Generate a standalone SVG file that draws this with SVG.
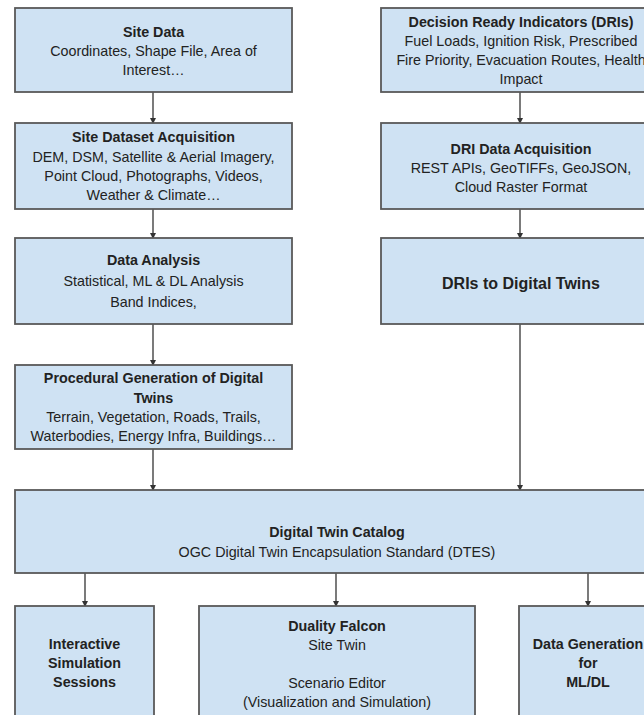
<svg xmlns="http://www.w3.org/2000/svg" width="644" height="715" viewBox="0 0 644 715">
<defs>
<marker id="ah" markerWidth="6" markerHeight="6" refX="5" refY="3" orient="auto" markerUnits="userSpaceOnUse">
<path d="M0,0 L6,3 L0,6 Z" fill="#333"/>
</marker>
<style>
.box{fill:#cfe2f3;stroke:#595959;stroke-width:1.8}
text{font-family:"Liberation Sans",Arial,sans-serif;font-size:14.3px;fill:#222;text-anchor:middle}
.t{font-weight:bold}
.big{font-weight:bold;font-size:16px}
.c{stroke:#333;stroke-width:1.3;fill:none}
</style>
</defs>
<rect width="644" height="715" fill="#fff"/>
<g id="connectors">
<line class="c" x1="153" y1="92" x2="153" y2="123" marker-end="url(#ah)"/>
<line class="c" x1="153" y1="209" x2="153" y2="238" marker-end="url(#ah)"/>
<line class="c" x1="153" y1="324" x2="153" y2="365" marker-end="url(#ah)"/>
<line class="c" x1="153" y1="449" x2="153" y2="490" marker-end="url(#ah)"/>
<line class="c" x1="520" y1="92" x2="520" y2="123" marker-end="url(#ah)"/>
<line class="c" x1="520" y1="209" x2="520" y2="238" marker-end="url(#ah)"/>
<line class="c" x1="520" y1="324" x2="520" y2="490" marker-end="url(#ah)"/>
<line class="c" x1="85" y1="570" x2="85" y2="606" marker-end="url(#ah)"/>
<line class="c" x1="336" y1="573" x2="336" y2="606" marker-end="url(#ah)"/>
<line class="c" x1="588" y1="568" x2="588" y2="606" marker-end="url(#ah)"/>
</g>
<g id="site-data">
<rect class="box" x="15" y="8" width="277" height="84"/>
<text class="t" x="153.5" y="37">Site Data</text>
<text x="153.5" y="56">Coordinates, Shape File, Area of</text>
<text x="153.5" y="75">Interest…</text>
</g>
<g id="site-dataset-acquisition">
<rect class="box" x="15" y="123" width="277" height="86"/>
<text class="t" x="153.5" y="142">Site Dataset Acquisition</text>
<text x="153.5" y="162">DEM, DSM, Satellite &amp; Aerial Imagery,</text>
<text x="153.5" y="181">Point Cloud, Photographs, Videos,</text>
<text x="153.5" y="200">Weather &amp; Climate…</text>
</g>
<g id="data-analysis">
<rect class="box" x="15" y="238" width="277" height="86"/>
<text class="t" x="153.5" y="265">Data Analysis</text>
<text x="153.5" y="286">Statistical, ML &amp; DL Analysis</text>
<text x="153.5" y="307">Band Indices,</text>
</g>
<g id="procedural-generation">
<rect class="box" x="15" y="365" width="277" height="84"/>
<text class="t" x="153.5" y="383">Procedural Generation of Digital</text>
<text class="t" x="153.5" y="403">Twins</text>
<text x="153.5" y="422">Terrain, Vegetation, Roads, Trails,</text>
<text x="153.5" y="441">Waterbodies, Energy Infra, Buildings…</text>
</g>
<g id="dris">
<rect class="box" x="381" y="8" width="280" height="84"/>
<text class="t" x="521" y="27">Decision Ready Indicators (DRIs)</text>
<text x="521" y="46">Fuel Loads, Ignition Risk, Prescribed</text>
<text x="521" y="65">Fire Priority, Evacuation Routes, Health</text>
<text x="521" y="84">Impact</text>
</g>
<g id="dri-data-acquisition">
<rect class="box" x="381" y="123" width="280" height="86"/>
<text class="t" x="521" y="154">DRI Data Acquisition</text>
<text x="521" y="173">REST APIs, GeoTIFFs, GeoJSON,</text>
<text x="521" y="192">Cloud Raster Format</text>
</g>
<g id="dris-to-digital-twins">
<rect class="box" x="381" y="238" width="280" height="86"/>
<text class="big" x="521" y="289">DRIs to Digital Twins</text>
</g>
<g id="digital-twin-catalog">
<rect class="box" x="15" y="490" width="645" height="83"/>
<text class="t" x="337" y="537">Digital Twin Catalog</text>
<text x="337" y="557">OGC Digital Twin Encapsulation Standard (DTES)</text>
</g>
<g id="interactive-simulation">
<rect class="box" x="15" y="606" width="139" height="120"/>
<text class="t" x="84.5" y="649">Interactive</text>
<text class="t" x="84.5" y="668">Simulation</text>
<text class="t" x="84.5" y="687">Sessions</text>
</g>
<g id="duality-falcon">
<rect class="box" x="199" y="606" width="276" height="120"/>
<text class="t" x="337" y="631">Duality Falcon</text>
<text x="337" y="650">Site Twin</text>
<text x="337" y="688">Scenario Editor</text>
<text x="337" y="707">(Visualization and Simulation)</text>
</g>
<g id="data-generation">
<rect class="box" x="519" y="606" width="139" height="120"/>
<text class="t" x="588" y="649">Data Generation</text>
<text class="t" x="588" y="668">for</text>
<text class="t" x="588" y="687">ML/DL</text>
</g>
</svg>
